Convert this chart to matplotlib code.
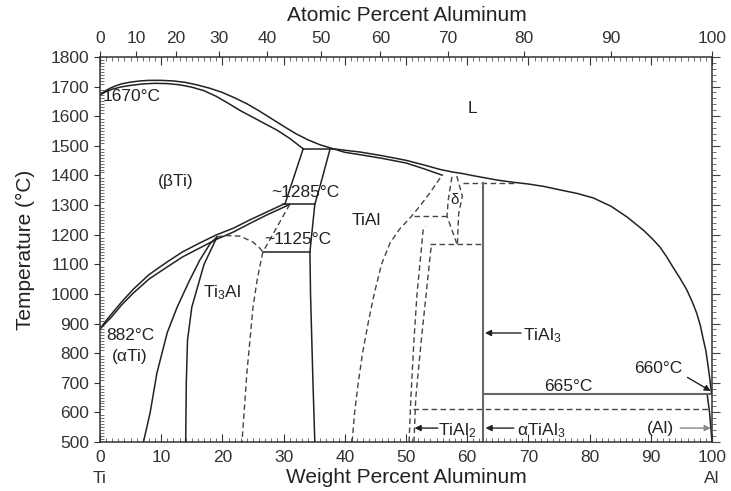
import numpy as np
import matplotlib
matplotlib.use('Agg')
import matplotlib.pyplot as plt
from matplotlib.ticker import MultipleLocator

plt.rcParams['font.family'] = ['Liberation Sans', 'DejaVu Sans']
plt.rcParams['mathtext.fontset'] = 'custom'
plt.rcParams['mathtext.rm'] = 'Liberation Sans'
plt.rcParams['mathtext.it'] = 'Liberation Sans:italic'

# atomic masses used for the at% <-> wt% top scale
M_AL, M_TI = 26.98, 47.87

# phase boundaries, (wt% Al, temperature C)
liquidus_ti = [(0, 1672), (0.7, 1683), (1.5, 1693), (2.5, 1702), (3.5, 1709), (5, 1715),
               (6.5, 1719), (8, 1721), (10, 1721), (12, 1719), (14, 1714), (16, 1705),
               (18, 1694), (20, 1680), (22, 1662), (24, 1642), (26, 1618), (28, 1592),
               (30, 1566), (32, 1541), (34, 1520), (36, 1503), (38.1, 1490)]
solidus_ti = [(0, 1672), (1, 1683), (2, 1691), (3.5, 1699), (5, 1704), (7, 1709), (9, 1711),
              (11, 1710), (13, 1706), (15, 1698), (17, 1686), (19, 1667), (21, 1643),
              (23, 1618), (25, 1596), (27, 1574), (29, 1552), (31, 1525), (33.2, 1490)]
liquidus_al = [(38.1, 1490), (40, 1485), (42.5, 1479), (46, 1467), (50, 1451), (53, 1435),
               (55.6, 1420), (57.5, 1412), (59.3, 1406), (61, 1399), (62.6, 1393), (65, 1384),
               (67.5, 1377), (70, 1371), (72.5, 1363), (75.2, 1351), (78, 1339), (80.6, 1324),
               (83.5, 1296), (86.1, 1260), (88.8, 1215), (90.3, 1185), (91.5, 1158),
               (92.6, 1125), (93.6, 1091), (94.8, 1052), (95.9, 1013), (96.8, 972), (97.5, 935),
               (98.1, 893), (98.5, 854), (99.0, 808), (99.3, 766), (99.6, 720), (99.9, 668)]
solidus_gamma = [(38.1, 1490), (40, 1478), (42.5, 1470), (46, 1458), (50, 1442), (53, 1422),
                 (55.9, 1401)]
peritectic_1490 = [(33.2, 1490), (38.1, 1490)]
beta_alpha = [(33.2, 1490), (30.2, 1302)]
gamma_left = [(37.6, 1490), (36.3, 1390), (35.1, 1302), (34.3, 1141), (34.4, 1000),
              (34.6, 850), (34.8, 700), (35.1, 500)]
eutectoid_1285 = [(29.9, 1302), (35.1, 1302)]
eutectoid_1125 = [(26.6, 1141), (34.3, 1141)]
transus_hi = [(0, 882), (1, 910), (2, 935), (3.5, 972), (5.4, 1015), (8, 1065), (10.9, 1107),
              (13.5, 1142), (16.3, 1172), (19, 1199), (21.8, 1222), (24.5, 1250),
              (27.2, 1276), (29.9, 1302)]
transus_lo = [(0, 882), (1, 903), (2, 925), (3.5, 962), (5.4, 1002), (8, 1050), (10.9, 1090),
              (13.5, 1125), (16.3, 1155), (19, 1184), (21.8, 1209), (24.5, 1238),
              (27.2, 1266), (31, 1302)]
alpha2_left = [(7.1, 500), (8.2, 600), (9.3, 733), (11, 870), (12.6, 955), (14.5, 1040),
               (16.3, 1114), (18, 1170), (19.1, 1192)]
alpha2_right = [(14.0, 500), (14.1, 700), (14.3, 844), (15.0, 955), (15.8, 1013),
                (17, 1100), (18.5, 1165), (19.1, 1192)]

alpha2_top = [(19.1, 1192), (20.5, 1197), (22.9, 1195), (25, 1175), (26.1, 1155), (26.6, 1141)]
alpha2_gamma = [(26.6, 1141), (25.7, 1050), (25.0, 955), (24.0, 733), (23.2, 500)]
alpha_gamma = [(31, 1302), (26.6, 1141)]
gamma_solvus = [(41.2, 500), (41.6, 600), (42.2, 700), (42.9, 800), (43.8, 900), (44.8, 1000),
                (46, 1100), (47.4, 1172), (49, 1220), (50.9, 1262), (52.4, 1300),
                (53.9, 1341), (55.9, 1401)]
line_1260 = [(51.3, 1262), (56.7, 1262)]
delta_left = [(57.5, 1395), (56.9, 1317), (56.7, 1262), (58.3, 1170)]
delta_right = [(58.3, 1398), (59.2, 1330), (58.6, 1270), (58.4, 1168)]
line_1168 = [(53.9, 1168), (62.6, 1168)]
line_1374 = [(59.3, 1374), (68, 1374)]
tial2_left = [(50.5, 500), (50.8, 650), (51.3, 844), (51.8, 1000), (52.5, 1150),
              (52.8, 1216), (53.2, 1228)]
tial2_right = [(51.3, 500), (51.6, 650), (52.5, 844), (53.3, 1000), (54, 1140), (54.2, 1168)]
line_610 = [(51.2, 610), (100, 610)]

tial3_line = [(62.6, 500), (62.6, 1374)]
line_665 = [(62.6, 663), (100, 663)]
al_solvus = [(99.2, 663), (99.6, 600), (100, 500)]

solid_curves = [liquidus_ti, solidus_ti, liquidus_al, solidus_gamma, peritectic_1490,
                beta_alpha, gamma_left, eutectoid_1285, eutectoid_1125, transus_hi,
                transus_lo, alpha2_left, alpha2_right, al_solvus]
dashed_curves = [alpha2_top, alpha2_gamma, alpha_gamma, gamma_solvus, line_1260, delta_left,
                 delta_right, line_1168, line_1374, tial2_left, tial2_right, line_610]
gray_curves = [tial3_line, line_665]

wt_ticks = list(range(0, 101, 10))
at_ticks = list(range(0, 101, 10))


def wt_to_at(w):
    w = np.asarray(w, dtype=float)
    with np.errstate(divide='ignore', invalid='ignore'):
        return 100 * (w / M_AL) / (w / M_AL + (100 - w) / M_TI)


def at_to_wt(a):
    a = np.asarray(a, dtype=float)
    with np.errstate(divide='ignore', invalid='ignore'):
        return 100 * a * M_AL / (a * M_AL + (100 - a) * M_TI)


fig = plt.figure(figsize=(7.31, 4.91), dpi=100)
ax = fig.add_axes([0.1368, 0.0998, 0.8372, 0.7842])

ink = '#222222'


def draw(pts, **kw):
    w, t = zip(*pts)
    ax.plot(w, t, solid_joinstyle='round', **kw)


for c in solid_curves:
    draw(c, color=ink, lw=1.1)
for c in dashed_curves:
    draw(c, color='#444444', lw=1.0, ls=(0, (4, 2.5)))
for c in gray_curves:
    draw(c, color='#666666', lw=1.5)

ax.set_xlim(0, 100)
ax.set_ylim(500, 1800)

for s in ax.spines.values():
    s.set_color('#333333')
    s.set_linewidth(1.1)

ax.xaxis.set_major_locator(MultipleLocator(10))
ax.xaxis.set_minor_locator(MultipleLocator(1))
ax.set_xticks(wt_ticks)
ax.tick_params(axis='x', which='major', direction='in', length=6, top=True, pad=6,
               labelsize=12.5, colors='#333333')
ax.tick_params(axis='x', which='minor', direction='in', length=3, top=True, colors='#555555')
ax.yaxis.set_major_locator(MultipleLocator(100))
ax.yaxis.set_minor_locator(MultipleLocator(10))
ax.tick_params(axis='y', which='major', direction='out', length=4, pad=4,
               labelsize=12.5, colors='#333333')
ax.tick_params(axis='y', which='minor', direction='in', length=3, colors='#555555')

# right side: outward ticks, no labels
ry = ax.secondary_yaxis('right')
ry.yaxis.set_major_locator(MultipleLocator(100))
ry.yaxis.set_minor_locator(MultipleLocator(20))
ry.tick_params(which='major', direction='out', length=6, labelright=False, colors='#444444')
ry.tick_params(which='minor', direction='out', length=3, colors='#555555')
ry.spines['right'].set_visible(False)

# top: atomic percent scale
top = ax.secondary_xaxis('top', functions=(wt_to_at, at_to_wt))
top.set_xticks(at_ticks)
top.tick_params(which='major', direction='out', length=4, pad=4, labelsize=12.5,
                colors='#333333')
top.spines['top'].set_visible(False)

ax.set_xlabel('Weight Percent Aluminum', fontsize=15, color='#222222', va='center')
ax.xaxis.set_label_coords(0.5, -0.093)
ax.set_ylabel('Temperature (\u00b0C)', fontsize=15, color='#222222', va='center')
ax.yaxis.set_label_coords(-0.1225, 0.5)
fig.text(0.556, 0.969, 'Atomic Percent Aluminum', fontsize=15, color='#222222',
         ha='center', va='center')

for x, s in [(0, 'Ti'), (100, 'Al')]:
    ax.annotate(s, xy=(x, 0), xycoords=('data', 'axes fraction'), xytext=(0, -26),
                textcoords='offset points', ha='center', va='center', fontsize=12.5,
                color='#333333')

fs = 12.5
tc = '#222222'
ax.text(0.5, 1665, '1670\u00b0C', fontsize=fs, color=tc, ha='left', va='center')
ax.text(60.8, 1627, 'L', fontsize=fs, color=tc, ha='center', va='center')
ax.text(12.4, 1378, '(\u03b2Ti)', fontsize=fs, color=tc, ha='center', va='center')
ax.text(33.6, 1344, '~1285\u00b0C', fontsize=fs, color=tc, ha='center', va='center')
ax.text(43.5, 1249, 'TiAl', fontsize=fs, color=tc, ha='center', va='center')
ax.text(32.3, 1182, '~1125\u00b0C', fontsize=fs, color=tc, ha='center', va='center')
ax.text(58.0, 1317, '\u03b4', fontsize=11, color=tc, ha='center', va='center')
ax.text(20.0, 1005, 'Ti$_3$Al', fontsize=fs, color=tc, ha='center', va='center')
ax.text(4.9, 861, '882\u00b0C', fontsize=fs, color=tc, ha='center', va='center')
ax.text(4.8, 787, '(\u03b1Ti)', fontsize=fs, color=tc, ha='center', va='center')
ax.text(76.5, 689, '665\u00b0C', fontsize=fs, color=tc, ha='center', va='center')
ax.text(91.2, 749, '660\u00b0C', fontsize=fs, color=tc, ha='center', va='center')

arrow = dict(arrowstyle='-|>', color='#222222', lw=1.0, mutation_scale=9,
             shrinkA=0, shrinkB=0)
ax.annotate('', xy=(62.9, 868), xytext=(68.8, 868), arrowprops=arrow)
ax.text(69.1, 860, 'TiAl$_3$', fontsize=fs, color=tc, ha='left', va='center')
ax.annotate('', xy=(99.8, 672), xytext=(96.0, 718), arrowprops=arrow)
ax.annotate('', xy=(51.4, 547), xytext=(55.2, 547), arrowprops=arrow)
ax.text(55.3, 540, 'TiAl$_2$', fontsize=fs, color=tc, ha='left', va='center')
ax.annotate('', xy=(63.0, 547), xytext=(67.6, 547), arrowprops=arrow)
ax.text(68.2, 540, '\u03b1TiAl$_3$', fontsize=fs, color=tc, ha='left', va='center')
ax.text(91.5, 545, '(Al)', fontsize=fs, color=tc, ha='center', va='center')
ax.annotate('', xy=(99.8, 547), xytext=(94.8, 547),
            arrowprops=dict(arrowstyle='-|>', color='#888888', lw=1.0, mutation_scale=9,
                            shrinkA=0, shrinkB=0))

fig.savefig('out.png', dpi=100)
